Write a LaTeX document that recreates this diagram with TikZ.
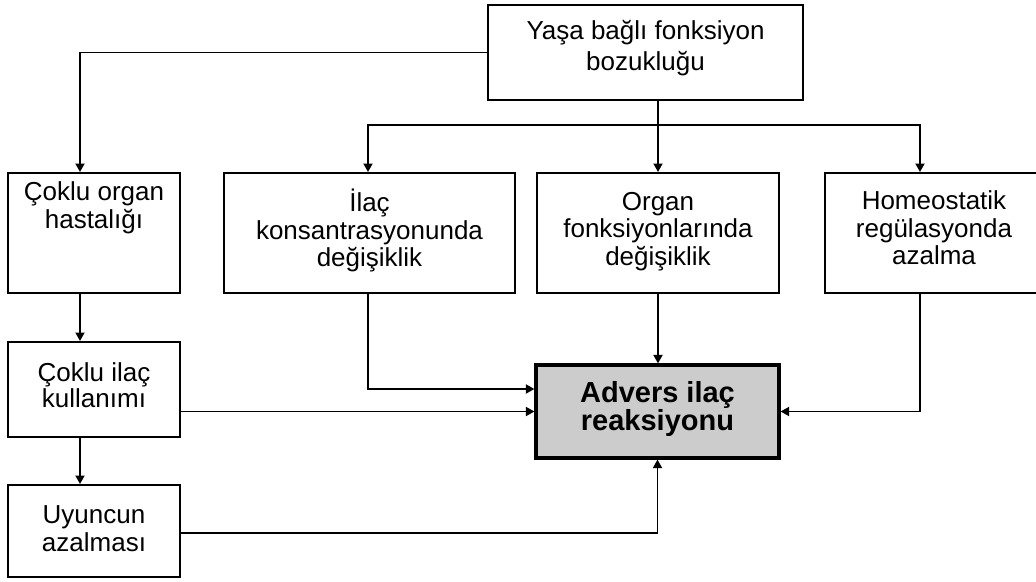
\documentclass[tikz,border=0pt]{standalone}
\usepackage{fontspec}
\setmainfont{Liberation Sans}
\usetikzlibrary{arrows.meta,calc}
\tikzset{
  box/.style={draw=black, line width=2pt, minimum width=#1, inner sep=0pt},
  txt/.style={anchor=base, align=center, inner sep=0pt, font=\fontsize{26}{27.6}\selectfont},
  arr/.style={line width=1.8pt, -{Triangle[length=8.5pt,width=9pt]}},
}
\begin{document}
\begin{tikzpicture}[x=1pt,y=-1pt]
\useasboundingbox (0,0) rectangle (1036,581);
\begin{scope}
\clip (0,0) rectangle (1036,581);
% boxes
\node[box=315pt, minimum height=95pt] (top) at (645.5,52.5) {};
\node[box=172pt, minimum height=120pt] (organ) at (94,233) {};
\node[box=172pt, minimum height=95pt] (ilacK) at (94,389.5) {};
\node[box=172pt, minimum height=92pt] (uyun) at (94,531) {};
\node[box=291pt, minimum height=120pt] (kons) at (369.5,233) {};
\node[box=242pt, minimum height=120pt] (orgf) at (658,233) {};
\node[box=218pt, minimum height=120pt] (homeo) at (934,233) {};
\node[box=243pt, minimum height=93pt, fill=black!20, line width=3.2pt] (adr) at (657.5,411.5) {};
% texts (anchor = baseline of last line)
\node[txt, font=\fontsize{26}{30.5}\selectfont] (ttop) at (645.5,70) {Yaşa bağlı fonksiyon\\bozukluğu};
\node[txt, font=\fontsize{26}{28}\selectfont] (torgan) at (94,228) {Çoklu organ\\hastalığı};
\node[txt] (tkons) at (369.5,266.7) {İlaç\\konsantrasyonunda\\değişiklik};
\node[txt] (torgf) at (658,265.2) {Organ\\fonksiyonlarında\\değişiklik};
\node[txt] (thomeo) at (934,264.7) {Homeostatik\\regülasyonda\\azalma};
\node[txt, font=\fontsize{26}{26.5}\selectfont] (tilacK) at (94,407.5) {Çoklu ilaç\\kullanımı};
\node[txt, font=\fontsize{26}{28.5}\selectfont] (tuyun) at (94,551.5) {Uyuncun\\azalması};
\node[txt, font=\fontsize{29}{28.5}\selectfont\bfseries] (tadr) at (657.5,430.5) {Advers ilaç\\reaksiyonu};
% connectors
\coordinate (br) at (658,125);
\coordinate (a1) at ([yshift=22.5pt]adr.west);
\draw[arr] (top.west) -| ([xshift=-14pt]organ.north);
\draw[line width=1.8pt] (top.south -| orgf.north) -- (br);
\draw[arr] (br) -- (orgf.north);
\draw[arr] (br) -| ([xshift=-1.5pt]kons.north);
\draw[arr] (br) -| ([xshift=-14pt]homeo.north);
\draw[arr] ([xshift=-14pt]organ.south) -- ([xshift=-14pt]ilacK.north);
\draw[arr] ([xshift=-14pt]ilacK.south) -- ([xshift=-14pt]uyun.north);
\draw[arr] ([xshift=-1.5pt]kons.south) |- (a1);
\draw[arr] (ilacK.east |- adr.west) -- (adr.west);
\draw[arr] (orgf.south) -- (orgf.south |- adr.north);
\draw[arr] ([xshift=-14pt]homeo.south) |- (adr.east);
\draw[arr] ([yshift=-2pt]uyun.east) -| (adr.south);
\end{scope}
\end{tikzpicture}
\end{document}
